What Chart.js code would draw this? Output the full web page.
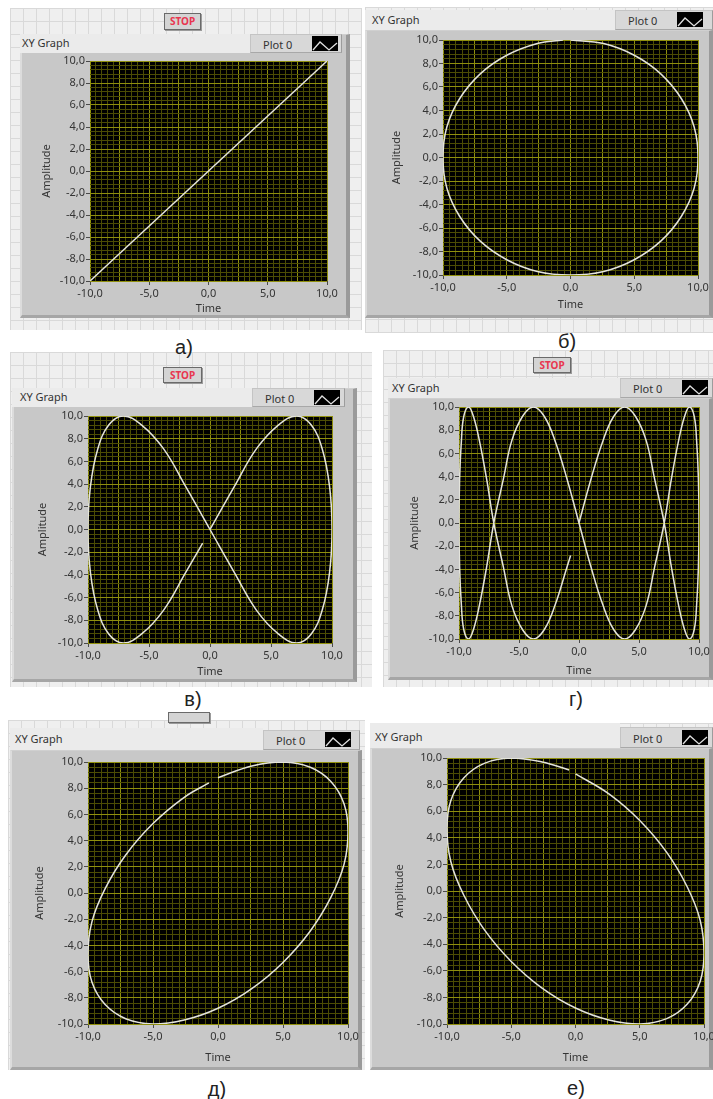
<!DOCTYPE html>
<html>
<head>
<meta charset="utf-8">
<script src="https://cdn.jsdelivr.net/npm/chart.js@4.4.1/dist/chart.umd.min.js"></script>
<style>
html, body { margin: 0; padding: 0; overflow: hidden; background: #fff; }
#root { position: relative; width: 713px; height: 1099px; overflow: hidden; font-family: "Noto Sans", "DejaVu Sans", sans-serif; }
.bg { position: absolute; background-color: #efefef;
  background-image: linear-gradient(#d9d9d9 1px, transparent 1px), linear-gradient(90deg, #d9d9d9 1px, transparent 1px);
  background-size: 13px 13px; }
.frame { position: absolute; box-sizing: border-box; background: #c8c8c8;
  border-left: 2px solid #dcdcdc; border-top: 1px solid #d0d0d0; border-right: 4px solid #9a9a9a; border-bottom: 3px solid #a6a6a6; }
.lbox { position: absolute; background: #ebebeb; }
.title { position: absolute; font-size: 11px; line-height: 16px; color: #333; white-space: nowrap; }
.legend { position: absolute; box-sizing: border-box; background: #d8d8d8; border: 1px solid #c4c4c4; border-right-color: #9c9c9c; border-bottom-color: #a8a8a8; }
.legend span { position: absolute; left: 12px; top: 50%; transform: translateY(-50%); font-size: 11px; color: #333; white-space: nowrap; }
.legend .sw { position: absolute; left: 61px; top: 50%; width: 26px; height: 15px; margin-top: -8px; background: #000; }
.stop { position: absolute; box-sizing: border-box; background: #d4d4d4; border: 1px solid #6a6a6a; box-shadow: 1px 1px 0 #9a9a9a;
  color: #e8364f; font-weight: bold; font-size: 10px; text-align: center; }
.cap { position: absolute; font-family: "Liberation Sans", Arial, sans-serif; font-size: 20px; line-height: 20px; color: #222; transform: translate(-50%, -50%); white-space: nowrap; }
canvas { position: absolute; }
</style>
</head>
<body>
<div id="root"></div>
<script>
// tick labels
var xLabels = [-10, -5, 0, 5, 10];
var yLabels = [-10, -8, -6, -4, -2, 0, 2, 4, 6, 8, 10];

// а) straight line
var aTime = [-10, -7.5, -5, -2.5, 0, 2.5, 5, 7.5, 10];
var aAmp = [-10, -7.5, -5, -2.5, 0, 2.5, 5, 7.5, 10];

// б) circle
var bTime = [0, 2.6, 5, 7.1, 8.7, 9.7, 10, 9.7, 8.7, 7.1, 5, 2.6, 0, -2.6, -5, -7.1, -8.7, -9.7, -10, -9.7, -8.7, -7.1, -5, -2.6, -0.6];
var bAmp = [10, 9.7, 8.7, 7.1, 5, 2.6, 0, -2.6, -5, -7.1, -8.7, -9.7, -10, -9.7, -8.7, -7.1, -5, -2.6, 0, 2.6, 5, 7.1, 8.7, 9.7, 10];

// в) figure eight
var vTime = [0, 2.0, 3.8, 5.6, 7.1, 8.3, 9.2, 9.8, 10, 9.8, 9.2, 8.3, 7.1, 5.6, 3.8, 2.0, 0,
  -2.0, -3.8, -5.6, -7.1, -8.3, -9.2, -9.8, -10, -9.8, -9.2, -8.3, -7.1, -5.6, -3.8, -2.0, -0.6];
var vAmp = [0, 3.8, 7.1, 9.2, 10, 9.2, 7.1, 3.8, 0, -3.8, -7.1, -9.2, -10, -9.2, -7.1, -3.8, 0,
  3.8, 7.1, 9.2, 10, 9.2, 7.1, 3.8, 0, -3.8, -7.1, -9.2, -10, -9.2, -7.1, -3.8, -1.2];

// г) four loops
var gTime = [0, 1.0, 2.0, 2.9, 3.8, 4.7, 5.6, 6.3, 7.1, 7.7, 8.3, 8.8, 9.2, 9.6, 9.8, 9.95,
  10, 9.95, 9.8, 9.6, 9.2, 8.8, 8.3, 7.7, 7.1, 6.3, 5.6, 4.7, 3.8, 2.9, 2.0, 1.0,
  0, -1.0, -2.0, -2.9, -3.8, -4.7, -5.6, -6.3, -7.1, -7.7, -8.3, -8.8, -9.2, -9.6, -9.8, -9.95,
  -10, -9.95, -9.8, -9.6, -9.2, -8.8, -8.3, -7.7, -7.1, -6.3, -5.6, -4.7, -3.8, -2.9, -2.0, -1.0, -0.7];
var gAmp = [0, 3.8, 7.1, 9.2, 10, 9.2, 7.1, 3.8, 0, -3.8, -7.1, -9.2, -10, -9.2, -7.1, -3.8,
  0, 3.8, 7.1, 9.2, 10, 9.2, 7.1, 3.8, 0, -3.8, -7.1, -9.2, -10, -9.2, -7.1, -3.8,
  0, 3.8, 7.1, 9.2, 10, 9.2, 7.1, 3.8, 0, -3.8, -7.1, -9.2, -10, -9.2, -7.1, -3.8,
  0, 3.8, 7.1, 9.2, 10, 9.2, 7.1, 3.8, 0, -3.8, -7.1, -9.2, -10, -9.2, -7.1, -3.8, -2.8];

// д) tilted ellipse
var dTime = [0, 2.6, 5, 7.1, 8.7, 9.7, 10, 9.7, 8.7, 7.1, 5, 2.6, 0, -2.6, -5, -7.1, -8.7, -9.7, -10, -9.7, -8.7, -7.1, -5, -2.6, -0.7];
var dAmp = [8.8, 9.7, 10, 9.6, 8.5, 6.8, 4.7, 2.2, -0.3, -2.9, -5.3, -7.3, -8.8, -9.7, -10, -9.6, -8.5, -6.8, -4.7, -2.2, 0.3, 2.9, 5.3, 7.3, 8.4];

// е) ellipse tilted the other way
var eTime = [0, 2.6, 5, 7.1, 8.7, 9.7, 10, 9.7, 8.7, 7.1, 5, 2.6, 0, -2.6, -5, -7.1, -8.7, -9.7, -10, -9.7, -8.7, -7.1, -5, -2.6, -0.5];
var eAmp = [8.8, 7.3, 5.3, 2.9, 0.3, -2.2, -4.7, -6.8, -8.5, -9.6, -10, -9.7, -8.8, -7.3, -5.3, -2.9, -0.3, 2.2, 4.7, 6.8, 8.5, 9.6, 10, 9.7, 9.1];

var xMinor = 0.5, xMajor = 2.5;
var yMinor = 0.4, yMajor = 2;

var panels = [
  { time: aTime, amp: aAmp, bg: [10, 8, 352, 322], stop: [164, 13, 37, 17, true], frame: [20, 34, 350, 318],
    lbox: [20, 34, 230, 19], title: [22, 43], legend: [250, 34, 92, 19], plot: [90, 61, 327, 281], ampX: 47, timeY: 309, caption: ['а)', 184, 347] },
  { time: bTime, amp: bAmp, bg: [365, 7, 348, 326], stop: null, frame: [365, 30, 713, 318],
    lbox: [365, 10, 250, 20], title: [372, 20], legend: [615, 10, 98, 20], plot: [443, 40, 698, 275], ampX: 397, timeY: 305, caption: ['б)', 567, 341] },
  { time: vTime, amp: vAmp, bg: [10, 352, 362, 335], stop: [163, 367, 39, 16, true], frame: [12, 388, 357, 682],
    lbox: [12, 388, 240, 19], title: [20, 397], legend: [252, 388, 93, 19], plot: [88, 416, 332, 643], ampX: 43, timeY: 672, caption: ['в)', 193, 699] },
  { time: gTime, amp: gAmp, bg: [383, 350, 330, 337], stop: [533, 357, 38, 16, true], frame: [388, 398, 713, 680],
    lbox: [388, 378, 232, 20], title: [392, 388], legend: [620, 378, 93, 20], plot: [459, 407, 699, 639], ampX: 415, timeY: 671, caption: ['г)', 576, 699] },
  { time: dTime, amp: dAmp, bg: [8, 720, 357, 350], stop: [168, 712, 42, 11, false], frame: [10, 750, 362, 1070],
    lbox: [10, 728, 253, 22], title: [15, 739], legend: [263, 730, 97, 20], plot: [88, 762, 348, 1024], ampX: 40, timeY: 1058, caption: ['д)', 217, 1089] },
  { time: eTime, amp: eAmp, bg: [370, 723, 343, 347], stop: null, frame: [370, 748, 713, 1070],
    lbox: [370, 723, 250, 25], title: [375, 737], legend: [620, 727, 93, 21], plot: [447, 758, 704, 1024], ampX: 400, timeY: 1058, caption: ['е)', 576, 1088] }
];

var root = document.getElementById('root');
var fontFamily = '"Noto Sans", "DejaVu Sans", sans-serif';
var axisFont = { family: fontFamily, size: 11, lineHeight: 1.2 };
var majorGrid = '#8f8f0e', minorGrid = '#4c4c04', tickMark = '#4a4a4a', textColor = '#353535';

function box(cls, x, y, w, h) {
  var d = document.createElement('div');
  d.className = cls;
  d.style.left = x + 'px';
  d.style.top = y + 'px';
  d.style.width = w + 'px';
  d.style.height = h + 'px';
  root.appendChild(d);
  return d;
}

function near(v, list) {
  return list.some(function (l) { return Math.abs(l - v) < 1e-6; });
}
function onStep(v, step) {
  var q = v / step;
  return Math.abs(q - Math.round(q)) < 1e-6;
}
function fmt(v) {
  return v.toFixed(1).replace('.', ',');
}
function gridTicks(step) {
  var out = [];
  var n = Math.round(10 / step);
  for (var i = -n; i <= n; i++) out.push({ value: (i * step * 10) / 10 });
  return out;
}

var plotBg = {
  id: 'plotBg',
  beforeDraw: function (chart) {
    var a = chart.chartArea, ctx = chart.ctx;
    ctx.save();
    ctx.fillStyle = '#000';
    ctx.fillRect(a.left, a.top, a.right - a.left, a.bottom - a.top);
    ctx.restore();
  }
};

function makeChart(p) {
  var l = p.plot[0], t = p.plot[1], r = p.plot[2], b = p.plot[3];
  var cx = p.frame[0], cy = t - 12;
  var cw = r + 25 - cx, ch = p.frame[3] - cy;
  var canvas = document.createElement('canvas');
  canvas.width = cw;
  canvas.height = ch;
  canvas.style.left = cx + 'px';
  canvas.style.top = cy + 'px';
  canvas.style.width = cw + 'px';
  canvas.style.height = ch + 'px';
  root.appendChild(canvas);

  var yW = l - cx, xH = p.frame[3] - b;
  var half = 6.6;
  var points = p.time.map(function (x, i) { return { x: x, y: p.amp[i] }; });

  new Chart(canvas.getContext('2d'), {
    type: 'scatter',
    data: {
      datasets: [{
        label: 'Plot 0',
        data: points,
        showLine: true,
        borderColor: '#e4e4dc',
        borderWidth: 1.5,
        pointRadius: 0,
        tension: 0.4,
        fill: false
      }]
    },
    options: {
      responsive: false,
      animation: false,
      events: [],
      layout: { padding: { left: 0, top: 12, right: 25, bottom: 0 } },
      plugins: { legend: { display: false }, tooltip: { enabled: false } },
      scales: {
        x: {
          type: 'linear', min: -10, max: 10,
          afterBuildTicks: function (s) { s.ticks = gridTicks(xMinor); },
          afterFit: function (s) { s.height = xH; },
          border: { display: false },
          grid: {
            lineWidth: 1, tickLength: 4,
            color: function (c) { return c.tick && onStep(c.tick.value, xMajor) ? majorGrid : minorGrid; },
            tickColor: function (c) { return c.tick && near(c.tick.value, xLabels) ? tickMark : 'rgba(0,0,0,0)'; }
          },
          ticks: {
            autoSkip: false, maxRotation: 0, minRotation: 0, padding: 2, color: textColor, font: axisFont,
            callback: function (v) { return near(v, xLabels) ? fmt(v) : ''; }
          },
          title: { display: true, text: 'Time', color: textColor, font: axisFont,
            padding: { top: 0, bottom: p.frame[3] - p.timeY - half } }
        },
        y: {
          type: 'linear', min: -10, max: 10,
          afterBuildTicks: function (s) { s.ticks = gridTicks(yMinor); },
          afterFit: function (s) { s.width = yW; },
          border: { display: false },
          grid: {
            lineWidth: 1, tickLength: 4,
            color: function (c) { return c.tick && onStep(c.tick.value, yMajor) ? majorGrid : minorGrid; },
            tickColor: function (c) { return c.tick && near(c.tick.value, yLabels) ? tickMark : 'rgba(0,0,0,0)'; }
          },
          ticks: {
            autoSkip: false, padding: 1, color: textColor, font: axisFont,
            callback: function (v) { return near(v, yLabels) ? fmt(v) : ''; }
          },
          title: { display: true, text: 'Amplitude', color: textColor, font: axisFont,
            padding: { top: p.ampX - cx - half, bottom: 0 } }
        }
      }
    },
    plugins: [plotBg]
  });
}

panels.forEach(function (p) {
  box('bg', p.bg[0], p.bg[1], p.bg[2], p.bg[3]);
  if (p.stop) {
    var s = box('stop', p.stop[0], p.stop[1], p.stop[2], p.stop[3]);
    s.style.lineHeight = (p.stop[3] - 2) + 'px';
    if (p.stop[4]) s.textContent = 'STOP';
  }
  box('frame', p.frame[0], p.frame[1], p.frame[2] - p.frame[0], p.frame[3] - p.frame[1]);
  box('lbox', p.lbox[0], p.lbox[1], p.lbox[2], p.lbox[3]);
  var tt = box('title', p.title[0], p.title[1] - 8, 80, 16);
  tt.textContent = 'XY Graph';
  var lg = box('legend', p.legend[0], p.legend[1], p.legend[2], p.legend[3]);
  lg.innerHTML = '<span>Plot 0</span><div class="sw"><svg width="26" height="15">' +
    '<polyline points="1,12 8,4 17,12 25,5" fill="none" stroke="#e0e0e0" stroke-width="1.3"/></svg></div>';
  makeChart(p);
});

panels.forEach(function (p) {
  var c = document.createElement('div');
  c.className = 'cap';
  c.style.left = p.caption[1] + 'px';
  c.style.top = p.caption[2] + 'px';
  c.textContent = p.caption[0];
  root.appendChild(c);
});
</script>
</body>
</html>
